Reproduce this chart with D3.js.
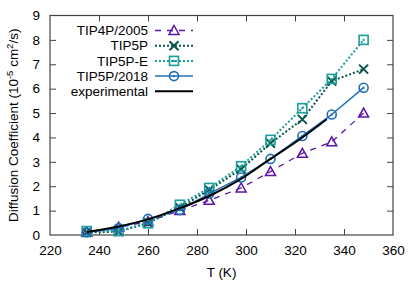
<!DOCTYPE html>
<html>
<head>
<meta charset="utf-8">
<script src="https://cdn.jsdelivr.net/npm/d3@7"></script>
<style>
  body { margin: 0; background: #fff; }
  svg { display: block; font-family: "Liberation Sans", Arial, sans-serif; }
</style>
</head>
<body>
<div id="wrapper" class="wrapper"></div>
<script>
const temps = [235, 248, 260, 273, 285, 298, 310, 323, 335, 348]
const tip4p2005 = [0.12, 0.32, 0.55, 1.0, 1.42, 1.93, 2.6, 3.35, 3.82, 5.0]
const tip5p = [0.1, 0.14, 0.5, 1.12, 1.85, 2.7, 3.76, 4.74, 6.31, 6.8]
const tip5pE = [0.16, 0.16, 0.48, 1.24, 1.93, 2.82, 3.9, 5.2, 6.4, 8.0]
const tip5p2018 = [0.1, 0.28, 0.66, 1.02, 1.7, 2.36, 3.12, 4.06, 4.94, 6.04]
const expTemps = [235, 242, 248, 260, 273, 285, 298, 310, 323, 333]
const expValues = [0.12, 0.24, 0.35, 0.64, 1.1, 1.6, 2.3, 3.12, 4.0, 4.75]
const xTicks = [220, 240, 260, 280, 300, 320, 340, 360]
const yTicks = [0, 1, 2, 3, 4, 5, 6, 7, 8, 9]

const series = [
    {name: "TIP4P/2005", values: tip4p2005, color: "#5b14a8", dash: "6,6", width: 1.3, marker: "triangle"},
    {name: "TIP5P", values: tip5p, color: "#0a554d", dash: "2,2", width: 2, marker: "cross"},
    {name: "TIP5P-E", values: tip5pE, color: "#1a9e9a", dash: "2,2", width: 2, marker: "square"},
    {name: "TIP5P/2018", values: tip5p2018, color: "#1f6fb4", dash: null, width: 1.5, marker: "circle"},
]

let dimensions = {
    width: 415,
    height: 283,
    margin: {top: 15.5, right: 22, bottom: 48, left: 50}
}
dimensions.boundedWidth = dimensions.width - dimensions.margin.left - dimensions.margin.right
dimensions.boundedHeight = dimensions.height - dimensions.margin.top - dimensions.margin.bottom

const wrapper = d3.select(".wrapper")
    .append("svg")
        .attr("width", dimensions.width)
        .attr("height", dimensions.height)

const bounds = wrapper.append("g")
    .attr("transform", `translate(${dimensions.margin.left},${dimensions.margin.top})`)

const xScale = d3.scaleLinear()
    .domain([220, 360])
    .range([0, dimensions.boundedWidth])

const yScale = d3.scaleLinear()
    .domain([0, 9])
    .range([dimensions.boundedHeight, 0])

// axes, ticks drawn inward on all four sides
const tickLen = 6
const axisColor = "#444"
const fontSize = "13.5px"

const xAxis = bounds.append("g")
    .attr("transform", `translate(0,${dimensions.boundedHeight})`)
    .call(d3.axisBottom(xScale).tickValues(xTicks).tickSizeInner(-tickLen).tickSizeOuter(0).tickPadding(10))
const xAxisTop = bounds.append("g")
    .call(d3.axisTop(xScale).tickValues(xTicks).tickSizeInner(-tickLen).tickSizeOuter(0).tickFormat(""))
const yAxis = bounds.append("g")
    .call(d3.axisLeft(yScale).tickValues(yTicks).tickSizeInner(-tickLen).tickSizeOuter(0).tickPadding(10))
const yAxisRight = bounds.append("g")
    .attr("transform", `translate(${dimensions.boundedWidth},0)`)
    .call(d3.axisRight(yScale).tickValues(yTicks).tickSizeInner(-tickLen).tickSizeOuter(0).tickFormat(""))

;[xAxis, xAxisTop, yAxis, yAxisRight].forEach(a => {
    a.select(".domain").remove()
    a.selectAll(".tick line").attr("stroke", axisColor).attr("stroke-width", 1)
    a.selectAll(".tick text")
        .attr("fill", "#000")
        .style("font-size", fontSize)
        .style("font-family", '"Liberation Sans", Arial, sans-serif')
})
// hide ticks that coincide with the frame
xAxis.selectAll(".tick").filter(d => d == 220 || d == 360).select("line").remove()
xAxisTop.selectAll(".tick").filter(d => d == 220 || d == 360).select("line").remove()
yAxis.selectAll(".tick").filter(d => d == 0 || d == 9).select("line").remove()
yAxisRight.selectAll(".tick").filter(d => d == 0 || d == 9).select("line").remove()

bounds.append("rect")
    .attr("width", dimensions.boundedWidth)
    .attr("height", dimensions.boundedHeight)
    .attr("fill", "none")
    .attr("stroke", axisColor)
    .attr("stroke-width", 1.2)

// axis labels
wrapper.append("text")
    .attr("x", dimensions.margin.left + dimensions.boundedWidth / 2)
    .attr("y", 277)
    .attr("text-anchor", "middle")
    .style("font-size", fontSize)
    .text("T (K)")

const yLabel = wrapper.append("text")
    .attr("transform", `translate(13,${dimensions.margin.top + dimensions.boundedHeight / 2}) rotate(-90)`)
    .attr("text-anchor", "middle")
    .attr("dy", "0.35em")
    .style("font-size", fontSize)
yLabel.append("tspan").text("Diffusion Coefficient (10")
yLabel.append("tspan").attr("dy", -5).style("font-size", "9.5px").text("-5")
yLabel.append("tspan").attr("dy", 5).text(" cm")
yLabel.append("tspan").attr("dy", -5).style("font-size", "9.5px").text("2")
yLabel.append("tspan").attr("dy", 5).text("/s)")

// markers
function drawMarker(g, type, color) {
    const s = 4.5
    if (type == "triangle") {
        g.append("path")
            .attr("d", `M0,${-s - 0.5}L${s + 0.5},${s - 0.5}L${-s - 0.5},${s - 0.5}Z`)
            .attr("fill", "none").attr("stroke", color).attr("stroke-width", 1.5)
    } else if (type == "cross") {
        g.append("path")
            .attr("d", `M${-s},${-s}L${s},${s}M${-s},${s}L${s},${-s}`)
            .attr("fill", "none").attr("stroke", color).attr("stroke-width", 2)
    } else if (type == "square") {
        g.append("rect")
            .attr("x", -s).attr("y", -s).attr("width", 2 * s).attr("height", 2 * s)
            .attr("fill", "none").attr("stroke", color).attr("stroke-width", 1.6)
        g.append("rect").attr("x", -1).attr("y", -1).attr("width", 2).attr("height", 2).attr("fill", color)
    } else if (type == "circle") {
        g.append("circle").attr("r", s)
            .attr("fill", "none").attr("stroke", color).attr("stroke-width", 1.6)
        g.append("rect").attr("x", -1).attr("y", -1).attr("width", 2).attr("height", 2).attr("fill", color)
    }
}

const lineGenerator = d3.line()
    .x(d => xScale(d[0]))
    .y(d => yScale(d[1]))

const plot = bounds.append("g").attr("class", "series")

series.forEach(s => {
    const pts = temps.map((t, i) => [t, s.values[i]])
    plot.append("path")
        .attr("d", lineGenerator(pts))
        .attr("fill", "none")
        .attr("stroke", s.color)
        .attr("stroke-width", s.width)
        .attr("stroke-dasharray", s.dash)
    pts.forEach(p => {
        const g = plot.append("g").attr("transform", `translate(${xScale(p[0])},${yScale(p[1])})`)
        drawMarker(g, s.marker, s.color)
    })
})

const expLine = d3.line()
    .x(d => xScale(d[0]))
    .y(d => yScale(d[1]))
    .curve(d3.curveMonotoneX)

plot.append("path")
    .attr("d", expLine(expTemps.map((t, i) => [t, expValues[i]])))
    .attr("fill", "none")
    .attr("stroke", "#000")
    .attr("stroke-width", 2)

// legend
const legendItems = series.concat([{name: "experimental", color: "#000", dash: null, width: 2, marker: null}])
const legend = wrapper.append("g")
legendItems.forEach((s, i) => {
    const y = 30.5 + i * 15.2
    legend.append("text")
        .attr("x", 148)
        .attr("y", y)
        .attr("dy", "0.35em")
        .attr("text-anchor", "end")
        .style("font-size", fontSize)
        .text(s.name)
    legend.append("line")
        .attr("x1", 155).attr("x2", 193)
        .attr("y1", y).attr("y2", y)
        .attr("stroke", s.color)
        .attr("stroke-width", s.width)
        .attr("stroke-dasharray", s.dash)
    if (s.marker) {
        const g = legend.append("g").attr("transform", `translate(174,${y})`)
        drawMarker(g, s.marker, s.color)
    }
})
</script>
</body>
</html>
